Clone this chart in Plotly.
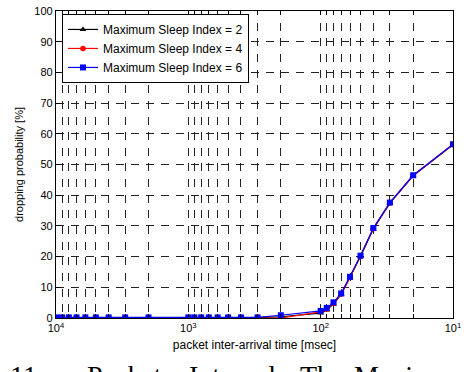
import plotly.graph_objects as go

# packet inter-arrival time [msec]
inter_arrival = [10000, 9000, 8000, 7000, 6000, 5000, 4000, 3000, 2000,
                 1000, 900, 800, 700, 600, 500, 400, 300, 200,
                 100, 90, 80, 70, 60, 50, 40, 30, 20, 10]

# dropping probability [%]
drop_idx2 = [0.1, 0.1, 0.1, 0.1, 0.1, 0.1, 0.1, 0.1, 0.1,
             0.1, 0.1, 0.1, 0.1, 0.1, 0.1, 0.1, 0.1, 0.4,
             1.6, 2.6, 4.5, 7.7, 13.1, 20.0, 29.0, 37.4, 46.3, 56.4]
drop_idx4 = [0.1, 0.1, 0.1, 0.1, 0.1, 0.1, 0.1, 0.1, 0.1,
             0.1, 0.1, 0.1, 0.1, 0.1, 0.1, 0.0, 0.0, 0.0,
             2.0, 2.9, 4.8, 7.8, 13.2, 20.1, 29.1, 37.5, 46.4, 56.5]
drop_idx6 = [0.2, 0.2, 0.2, 0.2, 0.2, 0.2, 0.2, 0.2, 0.2,
             0.2, 0.2, 0.2, 0.2, 0.2, 0.2, 0.2, 0.2, 0.9,
             2.3, 3.3, 5.1, 8.0, 13.4, 20.3, 29.3, 37.6, 46.5, 56.6]

series_names = ["Maximum Sleep Index = 2", "Maximum Sleep Index = 4", "Maximum Sleep Index = 6"]
series_colors = ["black", "red", "blue"]
series_symbols = ["triangle-up", "circle", "square"]

x_major = [10, 100, 1000, 10000]
x_major_text = ["10<sup>1</sup>", "10<sup>2</sup>", "10<sup>3</sup>", "10<sup>4</sup>"]
x_ticks = [m * 10 ** k for k in range(1, 4) for m in range(1, 10)] + [10000]
x_ticktext = [x_major_text[x_major.index(v)] if v in x_major else "" for v in x_ticks]
y_ticks = list(range(0, 101, 10))

caption_words = ["11.", "Packet", "Interval", "The", "Maximum"]
caption_px = [8, 85, 187, 298, 352]

fig = go.Figure()
for name, ys, col, sym in zip(series_names, [drop_idx2, drop_idx4, drop_idx6], series_colors, series_symbols):
    fig.add_trace(go.Scatter(
        x=inter_arrival, y=ys, name=name, mode="lines+markers",
        line=dict(color=col, width=1.2),
        marker=dict(color=col, symbol=sym, size=6 if sym != "circle" else 5.5),
    ))

font_main = "Liberation Sans, Arial, Helvetica, sans-serif"
L, R, T, B = 56, 17, 5, 54
W, H = 470, 372
pw = W - L - R
ph = H - T - B

fig.update_layout(
    width=W, height=H,
    margin=dict(l=L, r=R, t=T, b=B),
    paper_bgcolor="white", plot_bgcolor="white",
    font=dict(family=font_main, size=11, color="black"),
    showlegend=True,
    legend=dict(
        x=(62 - L) / pw, y=(ph - 3) / ph, xanchor="left", yanchor="top",
        bgcolor="white", bordercolor="black", borderwidth=1,
        font=dict(size=12, family=font_main),
        tracegroupgap=0, itemwidth=30,
    ),
    xaxis=dict(
        type="log", range=[4, 1], autorange=False,
        tickmode="array", tickvals=x_ticks, ticktext=x_ticktext,
        ticks="inside", ticklen=4, tickcolor="black", tickwidth=1,
        showline=True, linecolor="black", linewidth=1.2, mirror="allticks",
        showgrid=True, gridcolor="#222", gridwidth=0.7,
        griddash="4px,7.65px,4px,0px",
        zeroline=False, ticklabeloverflow="allow",
        tickfont=dict(size=11),
        title=dict(text="packet inter-arrival time [msec]", font=dict(size=12), standoff=7),
    ),
    yaxis=dict(
        range=[0, 100], autorange=False,
        tickmode="array", tickvals=y_ticks,
        ticks="inside", ticklen=5, tickcolor="black", tickwidth=1,
        showline=True, linecolor="black", linewidth=1.2, mirror="allticks",
        showgrid=True, gridcolor="#222", gridwidth=0.7, griddash="8px,7px",
        zeroline=False, ticklabeloverflow="allow",
        tickfont=dict(size=11),
        title=dict(text="dropping probability [%]", font=dict(size=11), standoff=8),
    ),
)

for word, px in zip(caption_words, caption_px):
    fig.add_annotation(
        text=word, xref="paper", yref="paper",
        x=(px - L) / pw, y=-(359 - (H - B)) / ph,
        xanchor="left", yanchor="top", showarrow=False,
        font=dict(family="Liberation Serif, Times New Roman, serif", size=28, color="black"),
    )

fig.write_html("out.html")
